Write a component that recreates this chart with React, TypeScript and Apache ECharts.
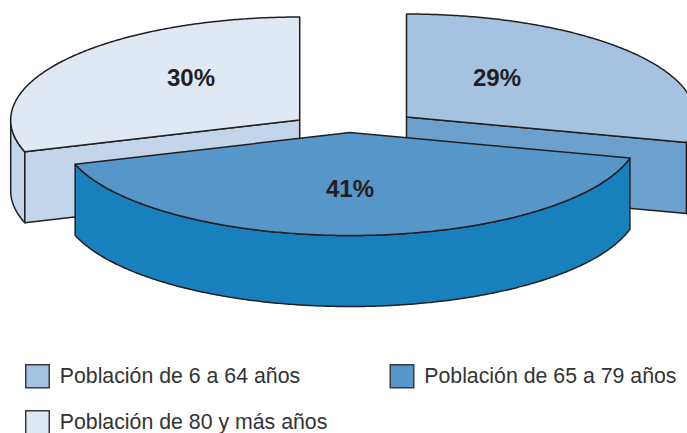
import React, { useEffect, useRef } from "react";
import * as echarts from "echarts";

const categories = ["Población de 6 a 64 años", "Población de 65 a 79 años", "Población de 80 y más años"];
const values = [29, 41, 30];
const percentLabels = ["29%", "41%", "30%"];
const topColors = ["#A5C2E0", "#5796C8", "#DFE8F3"];
const wallColors = ["#6DA1CD", "#1880BD", "#C2D5EA"];
const apexX = [406.5, 350, 299.7];
const apexY = [117, 132.5, 120];
const labelX = [497, 350, 191];
const labelY = [77, 188, 77];
const legendLeft = [25, 389.5, 25];
const legendTop = [364, 364, 410];

const RX = 289;
const RY = 103;
const DEPTH = 71;
const STROKE = "#231F20";
const START_DEG = -90;
const total = values.reduce((a, b) => a + b, 0);

const rad = (d: number) => (d * Math.PI) / 180;

function arcPts(cx: number, cy: number, a0: number, a1: number) {
  const pts: number[][] = [];
  const n = Math.max(2, Math.ceil(Math.abs(a1 - a0) * 2));
  for (let i = 0; i <= n; i++) {
    const t = rad(a0 + ((a1 - a0) * i) / n);
    pts.push([cx + RX * Math.cos(t), cy + RY * Math.sin(t)]);
  }
  return pts;
}

function sliceRenderer(index: number) {
  return (_params: any, api: any) => {
    const before = values.slice(0, index).reduce((a, b) => a + b, 0);
    const a0 = START_DEG + (before / total) * 360;
    const a1 = a0 + (api.value(0) / total) * 360;
    const cx = apexX[index];
    const cy = apexY[index];
    const lineStyle = { stroke: STROKE, lineWidth: 1.5, lineJoin: "round" };
    const wallStyle = { fill: wallColors[index], ...lineStyle };
    const children: any[] = [];

    // outer curved wall: the part of the rim that faces the viewer (0..180 deg)
    const visible: number[][] = [];
    [[a0, a1], [a0 - 360, a1 - 360]].forEach(([s, e]) => {
      const vs = Math.max(s, 0);
      const ve = Math.min(e, 180);
      if (ve > vs) visible.push([vs, ve]);
    });
    visible.forEach(([vs, ve]) => {
      const upper = arcPts(cx, cy, vs, ve);
      const lower = arcPts(cx, cy + DEPTH, vs, ve).reverse();
      children.push({ type: "polygon", shape: { points: [...upper, ...lower] }, style: wallStyle });
    });

    // flat radial wall, facing the viewer
    const wallAngle = index === 0 ? a1 : index === 2 ? a0 : null;
    if (wallAngle !== null) {
      const [ex, ey] = arcPts(cx, cy, wallAngle, wallAngle)[0];
      children.push({
        type: "polygon",
        shape: { points: [[cx, cy], [ex, ey], [ex, ey + DEPTH], [cx, cy + DEPTH]] },
        style: wallStyle,
      });
    }

    // top face
    children.push({
      type: "polygon",
      shape: { points: [[cx, cy], ...arcPts(cx, cy, a0, a1)] },
      style: { fill: topColors[index], ...lineStyle },
    });

    children.push({
      type: "text",
      style: {
        text: percentLabels[index],
        x: labelX[index],
        y: labelY[index],
        fill: STROKE,
        font: 'bold 24px "Liberation Sans", Arial, sans-serif',
        align: "center",
        verticalAlign: "middle",
      },
    });
    return { type: "group", children };
  };
}

export default function App() {
  const ref = useRef<HTMLDivElement>(null);
  useEffect(() => {
    document.body.style.margin = "0";
    const chart = echarts.init(ref.current!, undefined, { renderer: "svg" });
    chart.setOption({
      animation: false,
      backgroundColor: "#FFFFFF",
      legend: categories.map((name, i) => ({
        data: [name],
        left: legendLeft[i],
        top: legendTop[i],
        padding: 0,
        orient: "horizontal",
        selectedMode: false,
        icon: "rect",
        itemWidth: 23.5,
        itemHeight: 23,
        itemStyle: { borderColor: "#3A3A3C", borderWidth: 1.5 },
        textStyle: {
          color: "#333333",
          fontFamily: '"Liberation Sans", Arial, sans-serif',
          fontSize: 21.3,
          padding: [0, 0, 0, 5.5],
        },
      })),
      series: categories.map((name, i) => ({
        type: "custom",
        name,
        coordinateSystem: "none",
        z: i === 1 ? 5 : 2,
        silent: true,
        itemStyle: { color: topColors[i] },
        data: [[values[i]]],
        renderItem: sliceRenderer(i),
      })),
    });
    return () => chart.dispose();
  }, []);
  return <div ref={ref} style={{ width: 687, height: 433 }} />;
}
